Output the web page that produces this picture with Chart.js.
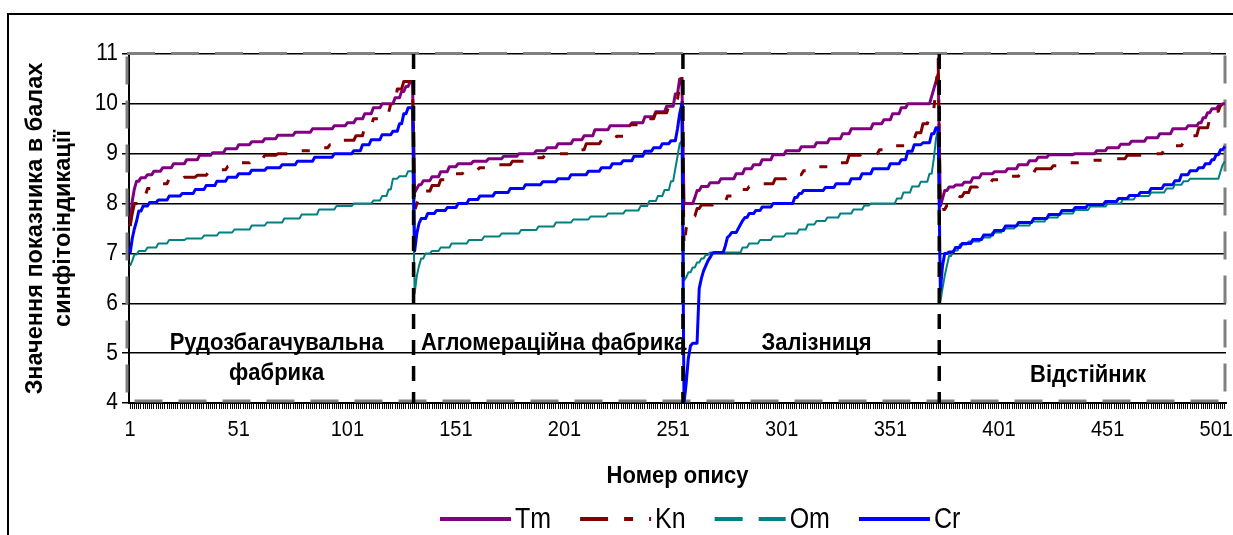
<!DOCTYPE html>
<html>
<head>
<meta charset="utf-8">
<script src="https://cdn.jsdelivr.net/npm/chart.js@4.4.0/dist/chart.umd.min.js"></script>
<style>
  html, body { margin: 0; padding: 0; background: #fff; }
  canvas { display: block; }
</style>
</head>
<body>
<canvas id="chart" width="1233" height="535"></canvas>
<script>
// Sites along the sampling route and how many descriptions each one has
const segmentNames = [['Рудозбагачувальна', 'фабрика'], ['Агломераційна фабрика'], ['Залізниця'], ['Відстійник']];
const segmentSizes = [131, 124, 118, 132];
const xTickLabels = ['1', '51', '101', '151', '201', '251', '301', '351', '401', '451', '501'];
const yTickLabels = [4, 5, 6, 7, 8, 9, 10, 11];
const seriesNames = ['Tm', 'Kn', 'Om', 'Cr'];

// Sorted phytoindication scores, stored as runs of [score, number of descriptions]
const tmRuns = [
  // Рудозбагачувальна фабрика
  [7.55,1],[8.05,1],[8.3,1],[8.45,2],[8.52,3],[8.58,3],[8.65,4],[8.72,5],[8.8,6],[8.88,6],[8.97,6],[9.02,6],
  [9.1,6],[9.18,6],[9.24,6],[9.3,6],[9.37,8],[9.43,8],[9.5,10],[9.56,6],[9.62,4],[9.7,4],[9.8,4],[9.92,4],
  [10.0,6],[10.12,3],[10.25,2],[10.35,2],[10.45,2],
  // Агломераційна фабрика
  [8.22,1],[8.3,1],[8.38,2],[8.46,4],[8.54,4],[8.64,4],[8.74,4],[8.8,7],[8.85,7],[8.9,7],[8.95,7],[9.0,8],
  [9.06,5],[9.12,5],[9.2,7],[9.28,5],[9.36,5],[9.48,7],[9.56,10],[9.62,6],[9.74,5],[9.84,5],[9.95,4],
  [10.2,2],[10.5,2],
  // Залізниця
  [8.0,5],[8.12,1],[8.26,2],[8.34,4],[8.42,5],[8.5,7],[8.6,4],[8.7,4],[8.78,4],[8.88,5],[8.98,6],[9.06,7],
  [9.14,7],[9.22,6],[9.3,6],[9.4,4],[9.5,10],[9.6,5],[9.68,4],[9.8,4],[9.92,3],[10.0,11],[10.15,1],
  [10.3,1],[10.45,1],[10.6,1],
  // Відстійник
  [7.95,1],[8.1,1],[8.26,2],[8.33,3],[8.37,4],[8.43,4],[8.52,4],[8.6,6],[8.64,6],[8.7,5],[8.78,5],[8.86,4],
  [8.93,5],[8.98,12],[9.0,10],[9.06,5],[9.12,6],[9.19,5],[9.25,7],[9.32,6],[9.4,6],[9.5,7],[9.56,5],
  [9.62,2],[9.72,2],[9.82,2],[9.9,3],[9.96,2],[10.0,2]
];
const knRuns = [
  [7.55,1],[7.8,1],[8.0,3],[8.15,3],[8.3,6],[8.4,4],[8.5,7],[8.53,6],[8.57,5],[8.62,4],[8.68,5],[8.75,5],
  [8.82,6],[8.9,6],[8.97,6],[9.0,10],[9.06,8],[9.12,6],[9.18,6],[9.27,6],[9.36,4],[9.55,4],[9.7,4],
  [9.82,4],[10.0,3],[10.3,3],[10.45,5],
  [7.85,1],[8.0,1],[8.12,2],[8.25,4],[8.36,4],[8.48,5],[8.6,6],[8.68,7],[8.72,8],[8.78,7],[8.85,9],[8.92,6],
  [8.97,6],[9.0,7],[9.08,6],[9.2,7],[9.27,7],[9.35,5],[9.58,6],[9.7,7],[9.82,6],[9.95,4],[10.1,1],
  [10.35,1],[10.55,1],
  [7.15,1],[7.5,1],[7.6,2],[7.75,2],[7.9,2],[7.97,6],[8.03,6],[8.15,4],[8.28,6],[8.34,6],[8.4,6],[8.5,6],
  [8.58,7],[8.66,7],[8.74,7],[8.82,7],[8.97,6],[9.0,8],[9.08,7],[9.16,6],[9.3,4],[9.42,3],[9.6,3],
  [9.75,2],[9.9,1],[10.3,1],[10.9,1],
  [7.85,1],[7.88,2],[7.96,3],[8.05,3],[8.14,2],[8.22,3],[8.33,4],[8.4,6],[8.48,6],[8.55,7],[8.62,7],
  [8.7,8],[8.76,8],[8.82,8],[8.87,8],[8.9,10],[8.97,10],[9.0,7],[9.08,5],[9.16,4],[9.24,4],[9.36,3],
  [9.52,5],[9.7,2],[9.85,3],[9.98,3]
];
const omRuns = [
  [6.75,1],[6.85,1],[6.98,2],[7.05,4],[7.12,5],[7.2,5],[7.27,8],[7.3,8],[7.36,7],[7.42,7],[7.48,8],[7.56,7],
  [7.62,8],[7.7,8],[7.78,8],[7.88,8],[7.95,8],[8.0,9],[8.06,4],[8.15,3],[8.28,2],[8.5,3],[8.55,4],[8.65,3],
  [6.2,1],[6.55,1],[6.75,1],[6.9,2],[7.0,3],[7.05,4],[7.12,5],[7.2,8],[7.27,7],[7.34,8],[7.4,9],[7.47,8],
  [7.54,8],[7.62,8],[7.68,8],[7.74,8],[7.8,8],[7.86,7],[7.95,4],[8.05,4],[8.15,3],[8.27,3],[8.45,2],
  [8.7,1],[8.95,1],[9.2,1],[9.25,1],
  [6.46,1],[6.52,1],[6.62,2],[6.72,2],[6.82,2],[6.9,2],[6.97,2],[7.02,15],[7.12,3],[7.2,5],[7.27,6],
  [7.34,6],[7.4,6],[7.48,4],[7.58,4],[7.65,5],[7.72,6],[7.8,6],[7.88,5],[7.96,3],[8.0,12],[8.1,3],
  [8.22,4],[8.34,4],[8.44,4],[8.6,2],[8.9,1],[9.3,1],[9.5,1],
  [6.02,1],[6.3,1],[6.55,1],[6.75,1],[6.95,2],[7.06,3],[7.18,4],[7.24,6],[7.32,5],[7.42,5],[7.5,6],
  [7.56,7],[7.64,7],[7.72,6],[7.8,7],[7.87,7],[7.94,8],[8.0,7],[8.08,6],[8.15,7],[8.22,7],[8.3,4],
  [8.38,4],[8.45,3],[8.5,14],[8.65,1],[8.78,1],[8.85,1]
];
const crRuns = [
  [7.0,1],[7.3,1],[7.5,1],[7.65,1],[7.85,2],[7.95,3],[8.02,4],[8.07,5],[8.15,6],[8.2,6],[8.28,5],[8.36,5],
  [8.45,5],[8.53,5],[8.6,6],[8.67,7],[8.72,7],[8.78,7],[8.85,8],[8.93,9],[9.0,9],[9.06,4],[9.18,4],
  [9.28,5],[9.38,5],[9.45,3],[9.6,2],[9.8,2],[9.92,3],
  [7.05,1],[7.4,1],[7.6,1],[7.7,3],[7.8,4],[7.86,5],[7.92,5],[8.0,5],[8.08,5],[8.15,7],[8.22,7],[8.3,7],
  [8.38,8],[8.44,7],[8.5,6],[8.58,8],[8.65,6],[8.72,5],[8.8,5],[8.86,5],[8.95,5],[9.05,4],[9.12,4],
  [9.2,4],[9.26,3],[9.5,1],[9.8,1],[10.0,1],
  [4.0,1],[4.4,1],[4.9,1],[5.15,1],[5.2,3],[6.3,1],[6.5,1],[6.65,1],[6.75,1],[6.85,1],[6.92,1],[7.0,1],
  [7.02,5],[7.15,1],[7.32,1],[7.36,1],[7.42,3],[7.5,1],[7.58,1],[7.66,1],[7.72,2],[7.8,3],[7.86,3],
  [7.93,5],[8.0,10],[8.12,2],[8.2,2],[8.26,10],[8.32,5],[8.4,7],[8.5,5],[8.6,5],[8.7,8],[8.8,5],
  [8.88,3],[9.05,3],[9.18,4],[9.22,4],[9.4,2],[9.52,2],
  [6.26,1],[6.75,1],[7.0,2],[7.03,3],[7.12,3],[7.2,5],[7.28,5],[7.37,5],[7.46,5],[7.55,6],[7.62,7],
  [7.7,7],[7.78,6],[7.86,6],[7.92,6],[7.98,8],[8.04,6],[8.1,5],[8.16,5],[8.22,5],[8.3,6],[8.38,5],
  [8.46,3],[8.58,4],[8.66,4],[8.72,3],[8.8,3],[8.88,2],[8.98,2],[9.08,2],[9.15,1]
];

const FONT = '"Liberation Sans", Arial, sans-serif';
const expandRuns = runs => runs.flatMap(([v, n]) => new Array(n).fill(v));
const total = segmentSizes.reduce((a, b) => a + b, 0);
const categories = Array.from({ length: total }, (_, i) => String(i + 1));

const seriesStyle = {
  Tm: { color: '#800080', width: 3, dash: [], legendDash: [] },
  Kn: { color: '#800000', width: 3, dash: [26, 16, 8, 16, 8, 16], legendDash: [28, 16, 9, 16, 9, 16] },
  Om: { color: '#008080', width: 2, dash: [], legendDash: [28, 16] },
  Cr: { color: '#0000ff', width: 3, dash: [], legendDash: [] }
};
const seriesData = { Tm: tmRuns, Kn: knRuns, Om: omRuns, Cr: crRuns };

// Text helper: glyphs may be drawn slightly taller than the plain font (stretch factor sy)
function drawText(ctx, s, x, y, o = {}) {
  ctx.save();
  ctx.translate(x, y);
  if (o.rot) {
    ctx.rotate(o.rot);
    ctx.scale(o.sy || 1, 1);
  } else {
    ctx.scale(1, o.sy || 1);
  }
  ctx.font = (o.bold ? 'bold ' : '') + (o.size || 20) + 'px ' + FONT;
  ctx.textAlign = o.align || 'center';
  ctx.textBaseline = o.base || 'middle';
  ctx.fillStyle = '#000';
  ctx.fillText(s, 0, 0);
  ctx.restore();
}

const decor = {
  id: 'decor',
  beforeDraw(chart) {
    const ctx = chart.ctx;
    ctx.save();
    ctx.fillStyle = '#fff';
    ctx.fillRect(0, 0, chart.width, chart.height);
    ctx.strokeStyle = '#000';
    ctx.lineWidth = 2;
    ctx.strokeRect(8, 14, chart.width + 20, chart.height + 20);
    ctx.restore();
  },
  beforeDatasetsDraw(chart) {
    const { ctx, chartArea: a } = chart;
    ctx.save();
    ctx.strokeStyle = '#808080';
    ctx.lineWidth = 3;
    ctx.setLineDash([28, 16]);
    ctx.strokeRect(a.left - 2, a.top - 0.5, a.right - a.left + 1, a.bottom - a.top - 1.5);
    ctx.restore();
  },
  afterDatasetsDraw(chart) {
    const { ctx, chartArea: a } = chart;
    const xs = chart.scales.x;
    ctx.save();
    ctx.strokeStyle = '#000';
    ctx.lineWidth = 3.5;
    ctx.setLineDash([15, 11]);
    let acc = 0;
    for (let s = 0; s < segmentSizes.length - 1; s++) {
      acc += segmentSizes[s];
      const x = xs.getPixelForValue(acc - 0.5);
      ctx.beginPath();
      ctx.moveTo(x, a.top);
      ctx.lineTo(x, a.bottom);
      ctx.stroke();
    }
    ctx.restore();
  },
  afterDraw(chart) {
    const { ctx, chartArea: a } = chart;
    const xs = chart.scales.x, ys = chart.scales.y;

    // tick labels
    xTickLabels.forEach(l => drawText(ctx, l, xs.getPixelForValue(Number(l) - 1), a.bottom + 27, { size: 20, sy: 1.12 }));
    yTickLabels.forEach(v => drawText(ctx, String(v), a.left - 11, ys.getPixelForValue(v), { size: 21, sy: 1.1, align: 'right' }));

    // axis titles
    const cy = (a.top + a.bottom) / 2;
    drawText(ctx, 'Значення показника в балах', 36, cy, { size: 23.5, bold: true, rot: -Math.PI / 2 });
    drawText(ctx, 'синфітоіндикації', 64, cy, { size: 23.5, bold: true, rot: -Math.PI / 2 });
    drawText(ctx, 'Номер опису', (a.left + a.right) / 2, a.bottom + 73, { size: 22, sy: 1.1, bold: true });

    // site names inside the plot
    const rowsY = [[5.2, 4.6], [5.2], [5.2], [4.56]];
    let start = 0;
    segmentNames.forEach((lines, s) => {
      const mid = start + (segmentSizes[s] - 1) / 2 + 2.5;
      start += segmentSizes[s];
      lines.forEach((t, r) => drawText(ctx, t, xs.getPixelForValue(mid), ys.getPixelForValue(rowsY[s][r]), { size: 22, sy: 1.12, bold: true }));
    });

    // legend
    ctx.save();
    let x = 440;
    const ly = 519;
    ctx.font = '25px ' + FONT;
    seriesNames.forEach(n => {
      const st = seriesStyle[n];
      ctx.strokeStyle = st.color;
      ctx.lineWidth = 4;
      ctx.setLineDash(st.legendDash);
      ctx.beginPath();
      ctx.moveTo(x, ly);
      ctx.lineTo(x + 71, ly);
      ctx.stroke();
      ctx.setLineDash([]);
      drawText(ctx, n, x + 75, ly + 1, { size: 25, sy: 1.15, align: 'left' });
      x += 75 + ctx.measureText(n).width + 29;
    });
    ctx.restore();
  }
};

new Chart(document.getElementById('chart'), {
  type: 'line',
  data: {
    labels: categories,
    datasets: seriesNames.map((n, i) => ({
      label: n,
      data: expandRuns(seriesData[n]),
      borderColor: seriesStyle[n].color,
      backgroundColor: seriesStyle[n].color,
      borderWidth: seriesStyle[n].width,
      borderDash: seriesStyle[n].dash,
      borderJoinStyle: 'round',
      pointRadius: 0,
      tension: 0,
      fill: false,
      order: seriesNames.length - i
    }))
  },
  options: {
    responsive: false,
    animation: false,
    devicePixelRatio: 1,
    events: [],
    layout: { padding: { top: 54, right: 7, left: 0, bottom: 0 } },
    plugins: { legend: { display: false }, tooltip: { enabled: false } },
    scales: {
      x: {
        type: 'category',
        offset: true,
        afterFit: s => { s.height = 132; },
        border: { display: true, color: '#000', width: 2 },
        grid: { display: true, drawOnChartArea: false, drawTicks: true, tickLength: 6, color: '#000', lineWidth: 1 },
        ticks: { display: false, autoSkip: false, maxRotation: 0 }
      },
      y: {
        min: 4,
        max: 11,
        afterFit: s => { s.width = 129; },
        border: { display: true, color: '#000', width: 2 },
        grid: { color: '#000', lineWidth: 1.5, tickLength: 7 },
        ticks: { display: false, stepSize: 1 }
      }
    }
  },
  plugins: [decor]
});
</script>
</body>
</html>
